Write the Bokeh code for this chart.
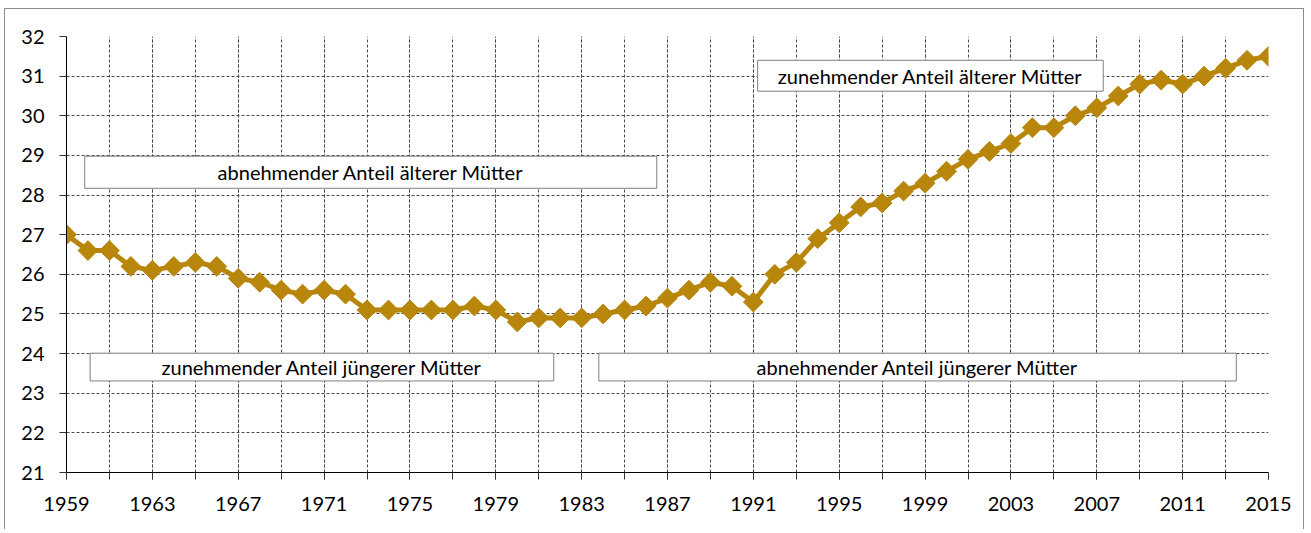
import numpy as np
from bokeh.plotting import figure
from bokeh.models import Range1d, FixedTicker, ColumnDataSource
from bokeh.core.properties import value
from bokeh.embed import file_html
from bokeh.resources import INLINE

# ---- data ----
years = list(range(1959, 2016))
age = [27.0, 26.6, 26.6, 26.2, 26.1, 26.2, 26.3, 26.2, 25.9, 25.8,
       25.6, 25.5, 25.6, 25.5, 25.1, 25.1, 25.1, 25.1, 25.1, 25.2,
       25.1, 24.8, 24.9, 24.9, 24.9, 25.0, 25.1, 25.2, 25.4, 25.6,
       25.8, 25.7, 25.3, 26.0, 26.3, 26.9, 27.3, 27.7, 27.8, 28.1,
       28.3, 28.6, 28.9, 29.1, 29.3, 29.7, 29.7, 30.0, 30.2, 30.5,
       30.8, 30.9, 30.8, 31.0, 31.2, 31.4, 31.5]
y_ticks = list(range(21, 33))
x_label_years = list(range(1959, 2016, 4))
x_minor_years = list(range(1959, 2016, 2))

box_labels = ["abnehmender Anteil älterer Mütter",
              "zunehmender Anteil älterer Mütter",
              "zunehmender Anteil jüngerer Mütter",
              "abnehmender Anteil jüngerer Mütter"]
box_left = [1959.85, 1991.2, 1960.1, 1983.8]
box_right = [1986.5, 2007.3, 1981.7, 2013.5]
box_bottom = [28.17, 30.62, 23.31, 23.31]
box_top = [28.98, 31.40, 24.01, 24.01]

COLOR = "#B8860B"
FONT = "Lato"

p = figure(width=1300, height=521,
           x_range=Range1d(1959, 2015), y_range=Range1d(21, 32),
           output_backend="svg", toolbar_location=None,
           min_border_left=61, min_border_right=37,
           min_border_top=27, min_border_bottom=58)
p.styles = {"border-top": "1px solid #8c8c8c",
            "border-left": "1px solid #8c8c8c",
            "border-right": "1px solid #8c8c8c",
            "margin-left": "4px", "margin-top": "8px"}
p.outline_line_color = None
p.background_fill_color = "white"
p.border_fill_color = "white"

# axes
p.xaxis.ticker = FixedTicker(ticks=x_label_years, minor_ticks=x_minor_years)
p.yaxis.ticker = FixedTicker(ticks=y_ticks)
for ax in (p.xaxis, p.yaxis):
    ax.axis_line_color = "black"
    ax.axis_line_width = 1
    ax.major_tick_line_color = "#333333"
    ax.major_tick_in = 0
    ax.major_tick_out = 7
    ax.major_label_text_font = FONT
    ax.major_label_text_font_size = "20px"
    ax.major_label_text_color = "black"
p.xaxis.minor_tick_line_color = "#333333"
p.xaxis.minor_tick_in = 0
p.xaxis.minor_tick_out = 7
p.yaxis.minor_tick_line_color = None
p.xaxis.major_label_standoff = 17
p.yaxis.major_label_standoff = 15

# grid
for g in (p.xgrid, p.ygrid):
    g.grid_line_color = "#4a4a4a"
    g.grid_line_dash = "3 2"
    g.grid_line_width = 1
p.xgrid.minor_grid_line_color = "#4a4a4a"
p.xgrid.minor_grid_line_dash = "3 2"

# annotation boxes
bsrc = ColumnDataSource(dict(
    left=box_left, right=box_right, bottom=box_bottom, top=box_top,
    label=box_labels,
    cx=[(a + b) / 2 for a, b in zip(box_left, box_right)],
    cy=[(a + b) / 2 for a, b in zip(box_bottom, box_top)]))
p.quad(left="left", right="right", bottom="bottom", top="top", source=bsrc,
       fill_color="white", line_color="#7f7f7f", line_width=1)
p.text(x="cx", y="cy", text="label", source=bsrc,
       text_font=value(FONT), text_font_size="20px",
       text_align="center", text_baseline="middle", text_color="black")

# series
p.line(years, age, line_color=COLOR, line_width=5)
p.scatter(years, age, marker="square", angle=np.pi / 4, size=14,
          fill_color=COLOR, line_color=COLOR)

open("out.html", "w").write(file_html(p, INLINE))
